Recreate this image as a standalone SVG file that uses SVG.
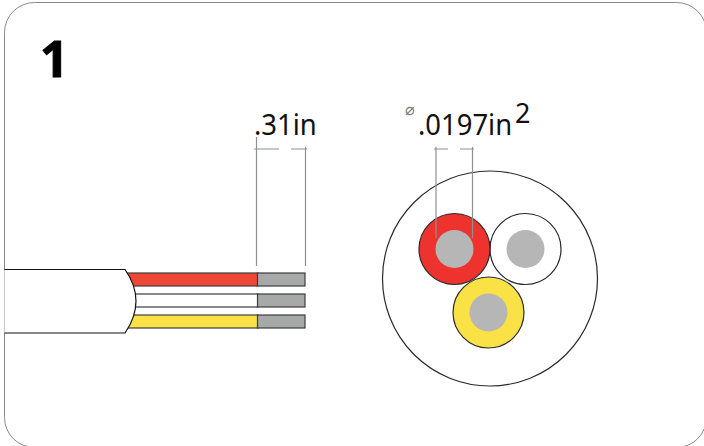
<svg xmlns="http://www.w3.org/2000/svg" width="704" height="446" viewBox="0 0 704 446">
<style>
.dim{stroke:#8f9191;stroke-width:1.2;fill:none}
.wire{stroke:#3c3c3c;stroke-width:1.2}
.tip{fill:#a7a9a9;stroke:#3c3c3c;stroke-width:1.2}
.ring{stroke:#2a2a2a;stroke-width:1.2}
.core{fill:#b5b6b5}
.lbl{font-family:"Noto Sans","Open Sans",sans-serif;fill:#111}
</style>
<rect width="704" height="446" fill="#fff"/>
<rect id="frame" x="4.5" y="2.5" width="702" height="445" rx="30" ry="30" fill="#fff" stroke="#8a8a8a" stroke-width="1"/>
<text id="number" x="40" y="77" font-family="'Open Sans','Noto Sans',sans-serif" font-weight="700" font-size="50" fill="#000" stroke="#000" stroke-width="1">1</text>
<g id="side-view">
<rect class="wire" x="125" y="273" width="133" height="13" fill="#ef4635"/>
<rect class="wire" x="125" y="294" width="133" height="13" fill="#fff"/>
<rect class="wire" x="125" y="315" width="133" height="13" fill="#f9e146"/>
<rect class="tip" x="257.500" y="273" width="47.500" height="13"/>
<rect class="tip" x="257.500" y="294" width="47.500" height="13"/>
<rect class="tip" x="257.500" y="315" width="47.500" height="13"/>
<path d="M4.500 269.500H125Q136 285 136 301T125 333H4.500" fill="#fff" stroke="#111" stroke-width="1.200"/>
</g>
<g id="section">
<circle cx="490" cy="278.500" r="107.500" fill="#fff" stroke="#2a2a2a" stroke-width="1.200"/>
<circle class="ring" cx="525.500" cy="249" r="35.500" fill="#fff"/>
<circle class="ring" cx="454.500" cy="249" r="35.500" fill="#ee322e"/>
<circle class="ring" cx="488.500" cy="312.500" r="35.500" fill="#f9e146"/>
<circle class="core" cx="454.500" cy="249" r="19"/>
<circle class="core" cx="525.500" cy="249" r="19"/>
<circle class="core" cx="488.500" cy="312.500" r="19"/>
</g>
<g id="connectors">
<path class="dim" d="M256.500 137V266M305.500 147V266M254 149H279M291 149H307"/>
<path class="dim" d="M436 147V238M472.500 147V238M434 149H448M460 149H474"/>
</g>
<g id="labels">
<text class="lbl" transform="translate(254 135) scale(.93 1)" font-size="29.500">.31in</text>
<text class="lbl" transform="translate(418 135) scale(.93 1)" font-size="29.500">.0197in</text>
<text class="lbl" x="515" y="122.500" font-size="27">2</text>
<text x="405" y="115" font-family="'DejaVu Sans',sans-serif" font-size="16" fill="#777">⌀</text>
</g>
</svg>
